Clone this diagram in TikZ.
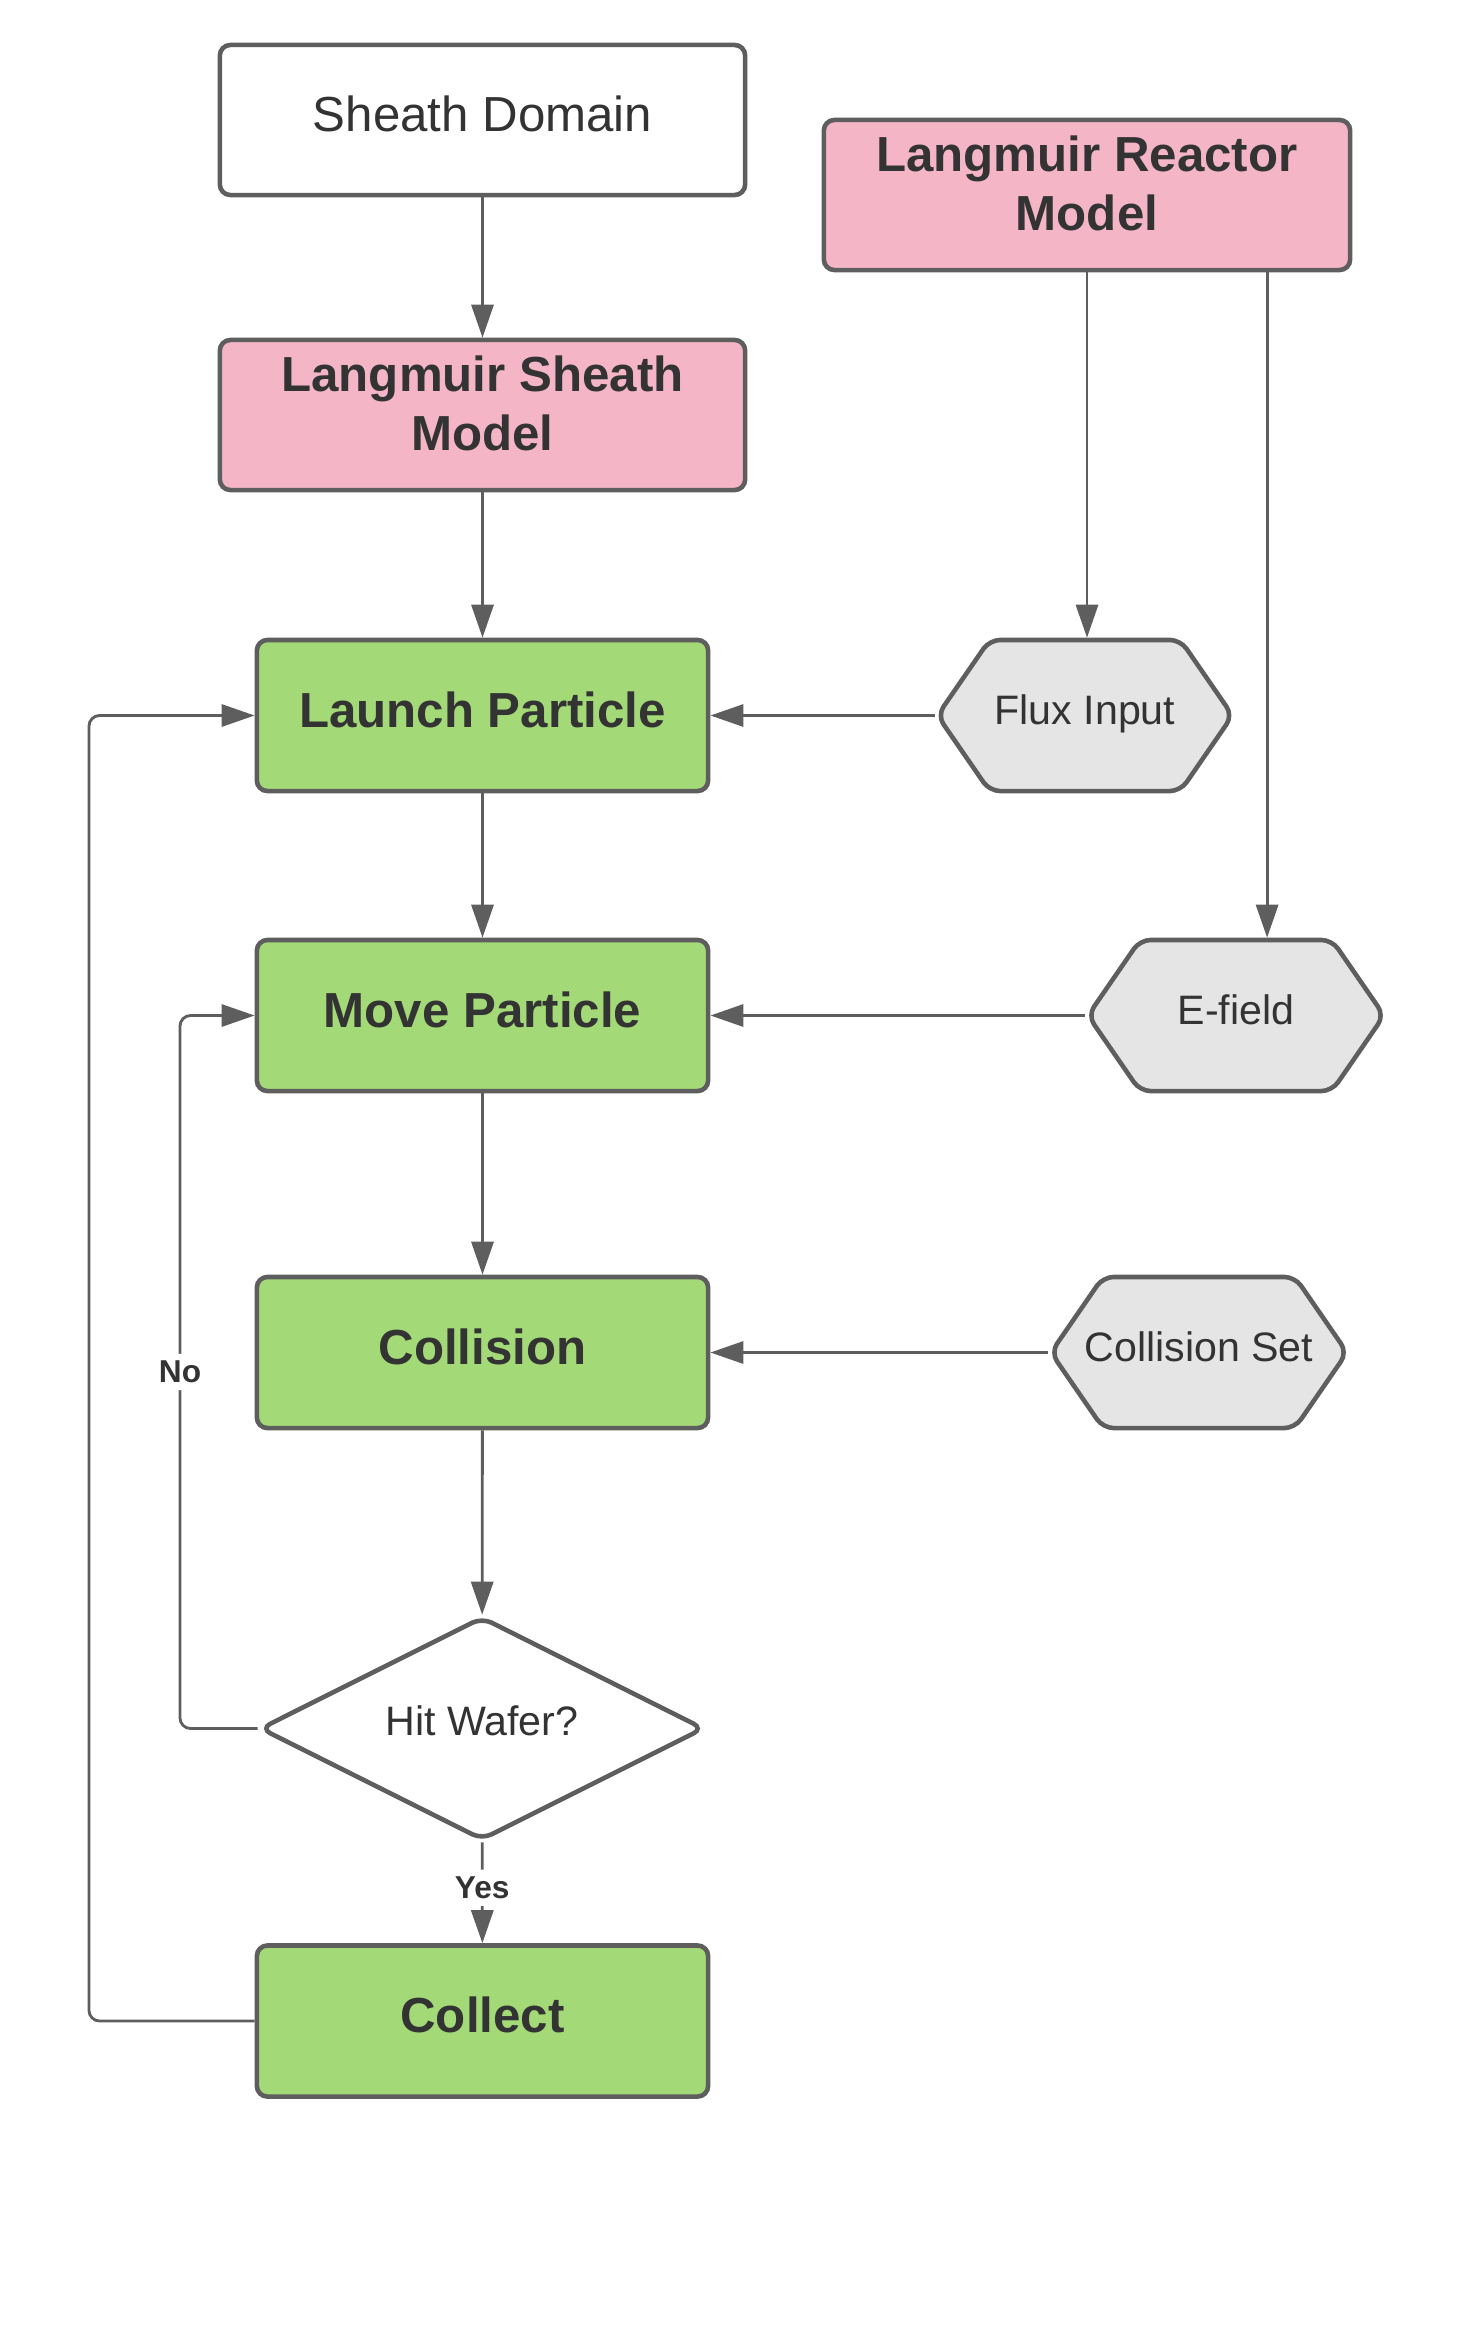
\documentclass[tikz,border=0pt]{standalone}
\usepackage{fontspec}
\setmainfont{Liberation Sans}
\usetikzlibrary{arrows.meta, shapes.geometric, shapes.symbols}

\definecolor{edgegray}{HTML}{5E5E5E}
\definecolor{txtgray}{HTML}{333333}
\definecolor{modelpink}{HTML}{F4B6C7}
\definecolor{stepgreen}{HTML}{A3D977}
\definecolor{inputgray}{HTML}{E5E5E5}

\tikzset{
  box/.style={draw=edgegray, line width=1.3pt, rounded corners=3pt, text=txtgray, inner sep=0pt},
  plainbox/.style={box, fill=white, minimum width=5.25cm, minimum height=1.5cm, text height=10pt, text depth=3.2pt, font=\fontsize{14}{17}\selectfont},
  modelbox/.style={box, fill=modelpink, minimum width=5.25cm, minimum height=1.5cm, text height=3pt, text depth=16.6pt, font=\fontsize{14}{17}\selectfont\bfseries},
  stepbox/.style={box, fill=stepgreen, minimum width=4.51cm, minimum height=1.51cm, text height=10pt, text depth=3.2pt, font=\fontsize{14}{17}\selectfont\bfseries},
  inputhex/.style={box, fill=inputgray, shape=signal, signal to=west and east, signal pointer angle=110.8, minimum width=2.95cm, minimum height=1.51cm, text height=8.5pt, text depth=3.3pt, font=\fontsize{11.7}{14}\selectfont},
  decision/.style={box, fill=white, shape=diamond, aspect=2, minimum width=4.44cm, minimum height=2.23cm, text height=8.5pt, text depth=4.5pt, font=\fontsize{11.7}{14}\selectfont},
  conn/.style={draw=edgegray, line width=0.8pt, ->, rounded corners=3pt},
  lbl/.style={fill=white, text=txtgray, inner sep=2pt, font=\fontsize{9}{11}\selectfont\bfseries}
}

\begin{document}
\begin{tikzpicture}[x=0.01cm, y=-0.01cm, >={Triangle[length=9.4pt, width=6.3pt]}]
  \useasboundingbox (0,0) rectangle (1464,2327);

  % models and main flow
  \node[plainbox] (domain) at (482.5,120) {Sheath Domain};
  \node[modelbox] (sheath) at (482.5,415) {\begin{tabular}[t]{@{}c@{}}Langmuir Sheath\\Model\end{tabular}};
  \node[modelbox, minimum width=5.26cm] (reactor) at (1087,195) {\begin{tabular}[t]{@{}c@{}}Langmuir Reactor\\Model\end{tabular}};
  \node[stepbox] (launch) at (482.5,715.5) {Launch Particle};
  \node[stepbox] (move) at (482.5,1015.5) {Move Particle};
  \node[stepbox] (collision) at (482.5,1352.5) {Collision};
  \node[decision] (hit) at (482,1728.5) {Hit Wafer?};
  \node[stepbox] (collect) at (482.5,2021) {Collect};

  % inputs
  \node[inputhex] (flux) at (1085,715.5) {Flux Input};
  \node[inputhex, minimum width=2.96cm] (efield) at (1236,1015.5) {E-field};
  \node[inputhex, minimum width=2.96cm, inner xsep=-0.19cm] (colset) at (1199,1352.5) {Collision Set};

  % loop corners
  \coordinate (nobend) at (180,1015.5);
  \coordinate (loopbend) at (89,715.5);

  % downward arrows
  \draw[conn] (domain) -- (sheath);
  \draw[conn] (sheath) -- (launch);
  \draw[conn] (launch) -- (move);
  \draw[conn] (move) -- (collision);
  \draw[conn] (collision) -- (hit);
  \draw[conn] (hit) -- node[lbl, pos=0.45] {Yes} (collect);

  % reactor feeds
  \draw[conn] (reactor.south) -- (reactor.south |- flux.north);
  \draw[conn] ([xshift=1.8cm]reactor.south) -- ([xshift=1.8cm]reactor.south |- efield.north);

  % inputs into the steps
  \draw[conn] (flux.west) -- (launch.east);
  \draw[conn] (efield.west) -- (move.east);
  \draw[conn] (colset.west) -- (collision.east);

  % loops back
  \draw[conn] (hit.west) -| node[lbl, pos=0.75] {No} (nobend) -- (move.west);
  \draw[conn] (collect.west) -| (loopbend) -- (launch.west);
\end{tikzpicture}
\end{document}
